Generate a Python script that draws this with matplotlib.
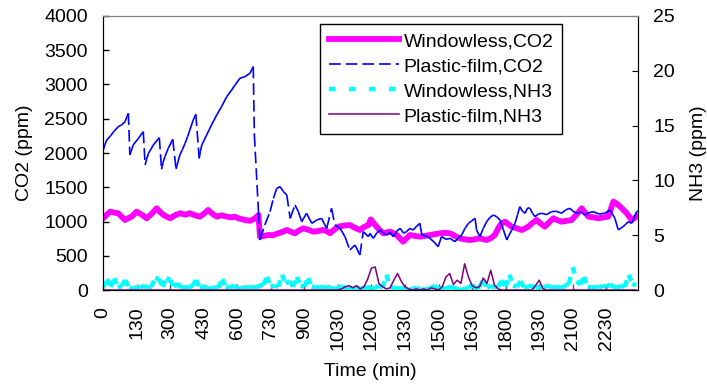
import numpy as np
import matplotlib
matplotlib.use('Agg')
import matplotlib.pyplot as plt
from matplotlib.collections import LineCollection
from matplotlib.lines import Line2D

plt.rcParams['font.family'] = ['Liberation Sans', 'DejaVu Sans']

# Windowless CO2 (ppm): time (min), value
win_co2_t = [0, 10, 19, 30, 41, 50, 59, 68, 77, 90, 104, 117, 130, 144, 153, 162, 180, 193,
             207, 220, 233, 247, 260, 270, 282, 294, 305, 318, 332, 345, 354, 363, 381, 395,
             408, 417, 421, 432, 443, 456, 470, 482, 493, 504, 515, 526, 537, 550, 564, 577,
             590, 600, 609, 620, 631, 646, 662, 675, 689, 700, 712, 718, 730, 741, 752, 770,
             788, 805, 823, 836, 850, 864, 877, 890, 904, 917, 931, 944, 957, 970, 984, 997,
             1011, 1029, 1041, 1051, 1060, 1069, 1078, 1096, 1110, 1123, 1141, 1152, 1163,
             1174, 1185, 1197, 1208, 1219, 1230, 1244, 1257, 1270, 1284, 1293, 1302, 1315,
             1329, 1342, 1355, 1362, 1369, 1378, 1387, 1396, 1405, 1418, 1431, 1435]
win_co2 = [1047, 1100, 1144, 1130, 1120, 1070, 1022, 1050, 1071, 1144, 1100, 1047, 1110, 1193,
           1140, 1095, 1047, 1090, 1120, 1100, 1120, 1090, 1071, 1110, 1168, 1110, 1071, 1090,
           1071, 1060, 1071, 1047, 1022, 1010, 1047, 1095, 779, 790, 803, 800, 828, 850, 876,
           850, 828, 870, 900, 880, 852, 860, 876, 860, 828, 880, 925, 940, 949, 910, 876, 920,
           949, 1030, 949, 880, 828, 852, 803, 706, 803, 790, 779, 790, 803, 815, 828, 835, 828,
           790, 754, 740, 730, 740, 754, 730, 760, 803, 900, 973, 997, 925, 900, 876, 925, 980,
           1022, 970, 925, 990, 1047, 1020, 997, 1010, 1022, 1100, 1193, 1130, 1071, 1060, 1047,
           1060, 1071, 1180, 1290, 1260, 1217, 1170, 1120, 1022, 1071, 1080]

# Plastic-film CO2 (ppm): time (min), value
pf_co2_t = [0, 5, 10, 20, 30, 41, 50, 59, 68, 72, 81, 95, 108, 113, 117, 122, 135, 151, 157,
            161, 166, 175, 187, 196, 201, 206, 213, 220, 227, 233, 242, 249, 258, 261, 265, 278,
            291, 305, 318, 332, 345, 354, 367, 381, 394, 403, 406, 417, 421, 434, 448, 457, 466,
            475, 484, 493, 502, 515, 524, 533, 546, 560, 573, 586, 600, 613, 622, 636, 649, 662,
            676, 689, 698, 712, 716, 725, 734, 743, 752, 761, 770, 779, 788, 797, 806, 814, 823,
            832, 841, 850, 855, 866, 877, 888, 899, 908, 920, 931, 944, 953, 962, 971, 980, 989,
            998, 1002, 1011, 1020, 1029, 1038, 1047, 1056, 1065, 1074, 1083, 1087, 1096, 1105,
            1112, 1118, 1125, 1132, 1139, 1145, 1152, 1159, 1168, 1177, 1190, 1203, 1216, 1230,
            1241, 1252, 1261, 1270, 1281, 1293, 1304, 1315, 1330, 1346, 1360, 1373, 1382, 1388,
            1395, 1402, 1409, 1418, 1425, 1431, 1435]
pf_co2 = [2030, 2120, 2190, 2250, 2320, 2385, 2410, 2458, 2580, 1971, 2117, 2214, 2312, 1825,
          1910, 1995, 2117, 2224, 1762, 1860, 1947, 2068, 2200, 1767, 1870, 1971, 2050, 2141,
          2240, 2336, 2482, 2565, 1922, 2020, 2117, 2263, 2409, 2555, 2677, 2823, 2920, 2990,
          3090, 3115, 3163, 3261, 2263, 1144, 730, 949, 1144, 1338, 1484, 1509, 1436, 1387,
          1046, 1241, 1144, 998, 1119, 973, 1022, 1046, 900, 1192, 949, 900, 779, 584, 657, 511,
          852, 779, 827, 754, 830, 876, 830, 803, 840, 779, 860, 900, 830, 852, 900, 876, 930,
          973, 803, 790, 754, 700, 633, 779, 740, 754, 706, 760, 803, 900, 973, 1010, 1047, 876,
          779, 900, 997, 1060, 1095, 1070, 1022, 880, 730, 779, 870, 973, 1100, 1217, 1150, 1120,
          1200, 1193, 1120, 1071, 1110, 1120, 1100, 1144, 1150, 1120, 1170, 1193, 1150, 1120,
          1140, 1095, 1130, 1144, 1110, 1120, 1168, 1047, 876, 900, 925, 960, 997, 973, 1060,
          1144, 1150]

# NH3 (ppm), one reading every 10 min
nh3_t = np.arange(0, 1440, 10)
win_nh3 = [0.2, 1.0, 0.3, 1.1, 0.2, 0.4, 0.9, 0.2, 0.1, 0.3, 0.2, 0.4,
           0.2, 0.3, 1.1, 1.0, 0.3, 1.1, 0.9, 0.3, 0.6, 0.2, 0.3, 0.2,
           0.4, 0.9, 0.2, 0.3, 0.2, 0.1, 0.3, 0.2, 1.0, 0.3, 0.2, 0.4,
           0.2, 0.1, 0.3, 0.2, 0.3, 0.2, 0.4, 0.5, 1.2, 0.3, 0.4, 0.3,
           1.4, 0.6, 0.8, 0.3, 1.2, 0.4, 0.3, 1.1, 0.3, 0.2, 0.3, 0.2,
           0.3, 0.2, 0.1, 0.2, 0.3, 0.2, 0.1, 0.2, 0.1, 0.2, 0.1, 0.3,
           0.1, 0.2, 0.4, 0.2, 1.4, 0.3, 0.2, 0.1, 0.2, 0.1, 0.0, 0.1,
           0.2, 0.1, 0.0, 0.1, 0.2, 0.4, 0.1, 0.2, 0.1, 0.3, 0.2, 0.1,
           0.0, 0.1, 0.2, 0.5, 0.1, 0.3, 0.9, 0.2, 0.4, 0.2, 0.3, 0.9,
           0.3, 1.4, 0.4, 0.3, 0.8, 0.2, 0.3, 0.4, 0.2, 0.3, 0.2, 0.4,
           0.3, 0.2, 0.3, 0.2, 0.4, 0.6, 2.1, 0.8, 0.5, 1.2, 0.3, 0.2,
           0.3, 0.2, 0.4, 0.3, 0.5, 0.3, 0.2, 0.4, 0.3, 1.4, 0.6, 0.4]
pf_nh3 = [0, 0, 0, 0, 0, 0, 0, 0, 0, 0, 0, 0,
          0, 0, 0, 0, 0, 0, 0, 0, 0, 0, 0, 0,
          0, 0, 0, 0, 0, 0, 0, 0, 0, 0, 0, 0,
          0, 0, 0, 0, 0, 0, 0, 0, 0, 0, 0, 0,
          0, 0, 0, 0, 0, 0, 0, 0, 0, 0, 0, 0,
          0, 0, 0, 0, 0.1, 0.3, 0.4, 0.2, 0.4, 0.1, 0.3, 1.0,
          2.0, 2.1, 0.6, 0.3, 0.1, 0.2, 0.9, 1.5, 0.8, 0.3, 0.1, 0.0,
          0.1, 0.0, 0.1, 0.0, 0.2, 0.1, 0.0, 0.3, 1.2, 1.5, 0.5, 0.9,
          0.6, 2.4, 1.2, 0.4, 0.2, 0.3, 1.1, 0.6, 1.8, 0.45, 0.1, 0,
          0, 0, 0, 0, 0, 0, 0, 0, 0.4, 0.9, 0.1, 0,
          0, 0, 0, 0, 0, 0, 0, 0, 0, 0, 0, 0,
          0, 0, 0, 0, 0, 0, 0, 0, 0, 0, 0, 0]

tick_pos = np.arange(0, 1440, 90)
tick_lab = ['0', '130', '300', '430', '600', '730', '900', '1030', '1200', '1330',
            '1500', '1630', '1800', '1930', '2100', '2230']


def segments(t, v):
    # one segment per pair of readings, so each restarts its dash pattern
    pts = np.column_stack([t, v])
    return np.stack([pts[:-1], pts[1:]], axis=1)


BLUE_DASH = (0, (7, 3))
CYAN_DOT = (0, (1.5, 3))

fig = plt.figure(figsize=(7.07, 3.87), dpi=100)
ax = fig.add_axes([0.1457, 0.2506, 0.7567, 0.7081])
ax2 = ax.twinx()

ax.plot(win_co2_t, win_co2, color='#ff00ff', lw=4.2, solid_capstyle='round', zorder=2)
ax.add_collection(LineCollection(segments(pf_co2_t, pf_co2), colors='#0000ff',
                                 linewidths=1.2, linestyles=[BLUE_DASH], zorder=3))

ax2.add_collection(LineCollection(segments(nh3_t, win_nh3), colors='#00ffff',
                                  linewidths=3.2, linestyles=[CYAN_DOT], capstyle='butt'))
ax2.plot(nh3_t, pf_nh3, color='#800080', lw=1.1)

ax.set_xlim(0, 1435)
ax.set_ylim(0, 4000)
ax.set_yticks(np.arange(0, 4001, 500))
ax2.set_ylim(0, 25)
ax2.set_yticks(np.arange(0, 26, 5))
ax.set_xticks(tick_pos)
ax.set_xticklabels(tick_lab, rotation=90)

ax.tick_params(axis='both', direction='in', length=4, labelsize=14, width=1)
ax.tick_params(axis='x', pad=12, color='#555555')
ax.tick_params(axis='y', pad=11)
ax2.tick_params(axis='y', direction='in', length=4, labelsize=14, pad=11)

ax.set_xlabel('Time (min)', fontsize=14, labelpad=9)
ax.set_ylabel('CO2 (ppm)', fontsize=14, labelpad=8)
ax2.set_ylabel('NH3 (ppm)', fontsize=14, labelpad=11)

for a in (ax, ax2):
    a.spines['top'].set_color('#808080')
    a.spines['left'].set_color('black')
    a.spines['right'].set_color('black')
    a.spines['bottom'].set_color('black')

handles = [
    Line2D([], [], color='#ff00ff', lw=4.2),
    Line2D([], [], color='#0000ff', lw=1.2, linestyle=BLUE_DASH),
    Line2D([], [], color='#00ffff', lw=3.2, linestyle=CYAN_DOT, dash_capstyle='butt'),
    Line2D([], [], color='#800080', lw=1.1),
]
labels = ['Windowless,CO2', 'Plastic-film,CO2', 'Windowless,NH3', 'Plastic-film,NH3']
leg = ax2.legend(handles, labels, loc='upper left', bbox_to_anchor=(0.406, 0.971),
                 borderaxespad=0, fontsize=14, handlelength=3.6, handletextpad=0.25,
                 labelspacing=0.38, borderpad=0.45, fancybox=False, framealpha=1,
                 edgecolor='black')
leg.get_frame().set_linewidth(1)

fig.savefig('out.png', dpi=100)
